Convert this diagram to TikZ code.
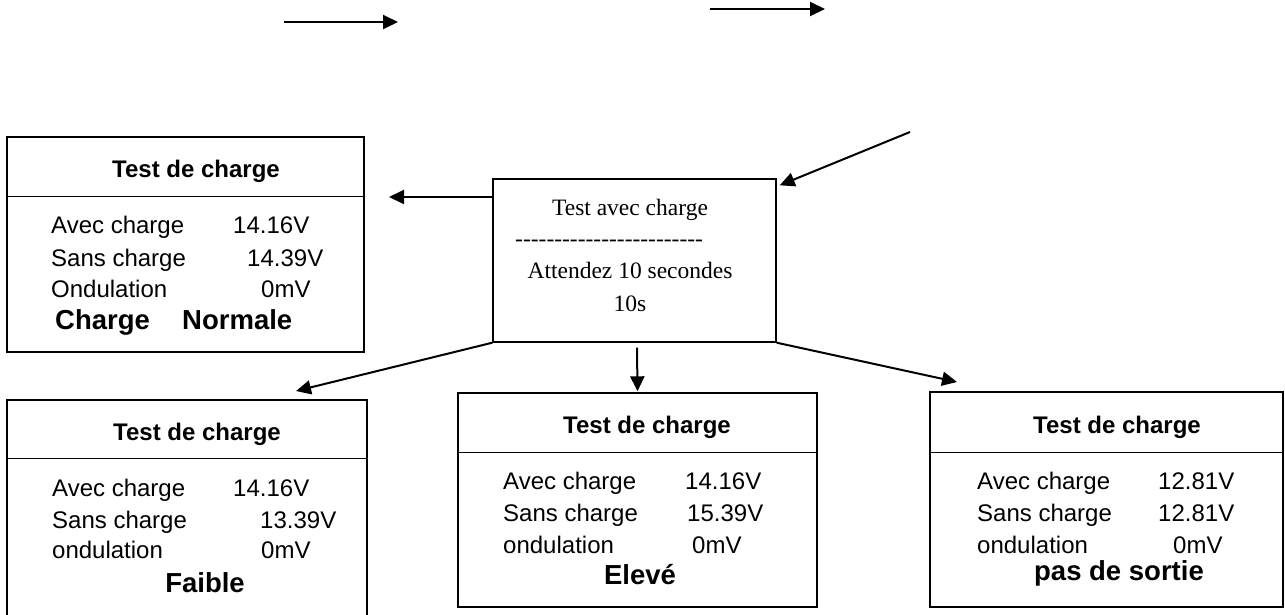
\documentclass[tikz,border=0pt]{standalone}
\usepackage{fontspec}
\setmainfont{Liberation Sans}
\newfontfamily\serifrm{Liberation Serif}
\usetikzlibrary{arrows.meta}
% single hyphens kept apart so they never merge into dashes
\newcommand\hy{-\kern0pt}
\newcommand\hyrow{\hy\hy\hy\hy\hy\hy\hy\hy\hy\hy\hy\hy\hy\hy\hy\hy\hy\hy\hy\hy\hy\hy\hy\hy}
\tikzset{
  panel/.style={draw, line width=1.4pt, inner sep=0pt},
  rule/.style={line width=1.4pt},
  arr/.style={line width=2pt, -{Triangle[length=15pt,width=14pt]}},
  ttl/.style={inner sep=0pt, anchor=base, font=\fontsize{24pt}{28pt}\selectfont\bfseries},
  lbl/.style={inner sep=0pt, anchor=base west, font=\fontsize{24pt}{28pt}\selectfont},
  res/.style={inner sep=0pt, anchor=base, font=\fontsize{27.5pt}{32pt}\selectfont\bfseries},
  res west/.style={inner sep=0pt, anchor=base west, font=\fontsize{27.5pt}{32pt}\selectfont\bfseries},
  srf/.style={inner sep=0pt, anchor=base, font=\fontsize{23.5pt}{28pt}\selectfont\serifrm},
}
\begin{document}
\begin{tikzpicture}[x=1pt,y=-1pt]
\useasboundingbox (0,0) rectangle (1285,614);
\clip (0,0) rectangle (1285,614);

% ---- central waiting screen ----
\node[panel, minimum width=283pt, minimum height=163pt] (c) at (634.5,260.5) {};
\node[srf] (c1) at (630,215) {Test avec charge};
\node[srf, anchor=base west] (c2) at (515,246) {\hyrow};
\node[srf] (c3) at (630,278) {Attendez 10 secondes};
\node[srf] (c4) at (630,311) {10s};

% ---- result screen: normal ----
\node[panel, minimum width=357pt, minimum height=215pt] (n1) at (185.5,244.5) {};
\draw[rule] ([yshift=-60pt]n1.north west) -- ([yshift=-60pt]n1.north east);
\node[ttl] (n1t) at (196,177) {Test de charge};
\node[lbl] (n1a) at (51,233) {Avec charge};
\node[lbl] (n1av) at (233,233) {14.16V};
\node[lbl] (n1b) at (51,266) {Sans charge};
\node[lbl] (n1bv) at (247,266) {14.39V};
\node[lbl] (n1c) at (51,297) {Ondulation};
\node[lbl] (n1cv) at (261,297) {0mV};
\node[res west] (n1r) at (55,329) {Charge};
\node[res west] (n1s) at (182,329) {Normale};

% ---- result screen: low ----
\node[panel, minimum width=360pt, minimum height=217pt] (n2) at (187,508.5) {};
\draw[rule] ([yshift=-59pt]n2.north west) -- ([yshift=-59pt]n2.north east);
\node[ttl] (n2t) at (197,440) {Test de charge};
\node[lbl] (n2a) at (52,496) {Avec charge};
\node[lbl] (n2av) at (233,496) {14.16V};
\node[lbl] (n2b) at (52,528) {Sans charge};
\node[lbl] (n2bv) at (260,528) {13.39V};
\node[lbl] (n2c) at (52,558) {ondulation};
\node[lbl] (n2cv) at (261,558) {0mV};
\node[res] (n2r) at (205,592) {Faible};

% ---- result screen: high ----
\node[panel, minimum width=359pt, minimum height=214pt] (n3) at (637.5,500) {};
\draw[rule] ([yshift=-60pt]n3.north west) -- ([yshift=-60pt]n3.north east);
\node[ttl] (n3t) at (647,433) {Test de charge};
\node[lbl] (n3a) at (503,489) {Avec charge};
\node[lbl] (n3av) at (685,489) {14.16V};
\node[lbl] (n3b) at (503,521) {Sans charge};
\node[lbl] (n3bv) at (687,521) {15.39V};
\node[lbl] (n3c) at (503,553) {ondulation};
\node[lbl] (n3cv) at (692,553) {0mV};
\node[res] (n3r) at (640,584) {Elevé};

% ---- result screen: no output ----
\node[panel, minimum width=353pt, minimum height=215pt] (n4) at (1106.5,499.5) {};
\draw[rule] ([yshift=-61pt]n4.north west) -- ([yshift=-61pt]n4.north east);
\node[ttl] (n4t) at (1117,433) {Test de charge};
\node[lbl] (n4a) at (977,489) {Avec charge};
\node[lbl] (n4av) at (1158,489) {12.81V};
\node[lbl] (n4b) at (977,521) {Sans charge};
\node[lbl] (n4bv) at (1158,521) {12.81V};
\node[lbl] (n4c) at (977,553) {ondulation};
\node[lbl] (n4cv) at (1173,553) {0mV};
\node[res] (n4r) at (1119,580) {pas de sortie};

% ---- connectors ----
\coordinate (t1a) at (284,22);
\coordinate (t1b) at (398,22);
\coordinate (t2a) at (710,9);
\coordinate (t2b) at (825,9);
\coordinate (din) at (910,132);
\coordinate (lt) at (389,197);
\coordinate (blt) at (296,391);
\coordinate (brt) at (957,382);

\draw[arr] (t1a) -- (t1b);
\draw[arr] (t2a) -- (t2b);
\draw[arr] (din) -- ([xshift=3pt,yshift=-7pt]c.north east);
\draw[arr] (c.west |- lt) -- (lt);
\draw[arr] (c.south west) -- (blt);
\draw[arr] ([xshift=2.5pt,yshift=-5pt]c.south) -- ([yshift=1pt]n3.north);
\draw[arr] (c.south east) -- (brt);
\end{tikzpicture}
\end{document}
